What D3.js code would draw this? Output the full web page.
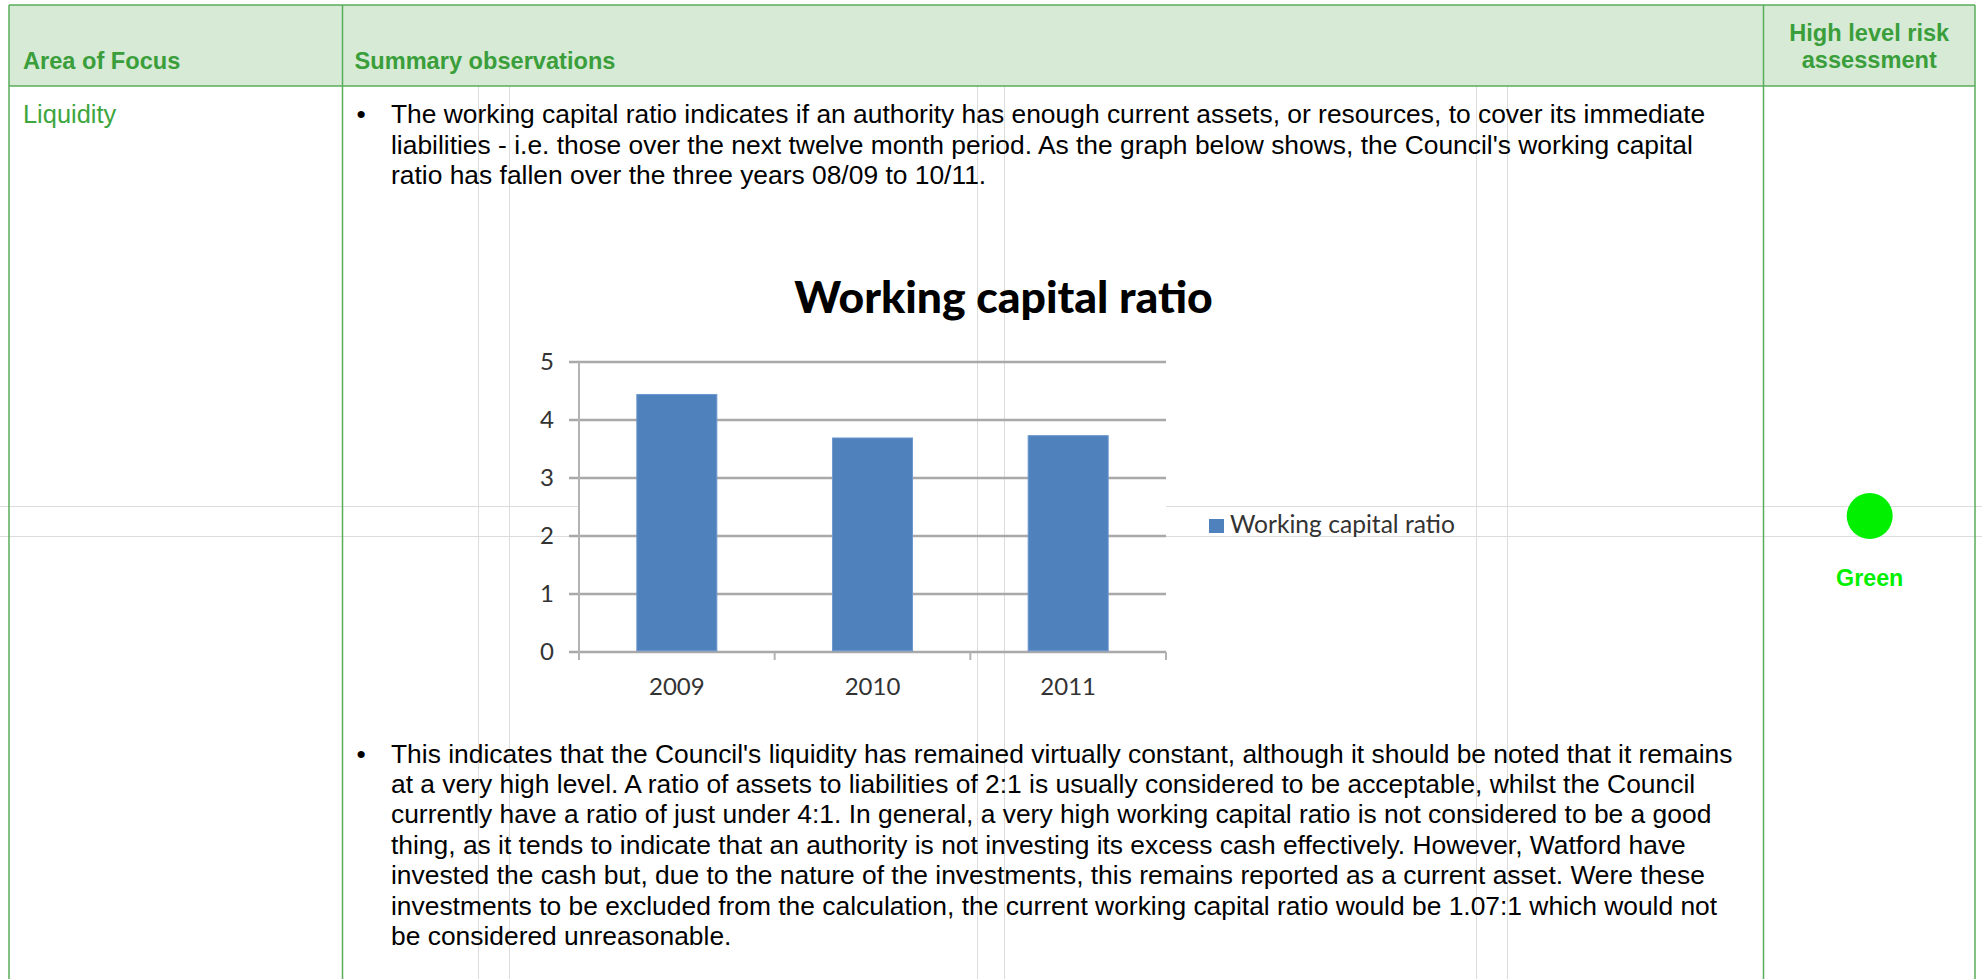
<!DOCTYPE html>
<html>
<head>
<meta charset="utf-8">
<script src="https://cdn.jsdelivr.net/npm/d3@7"></script>
<style>
  html, body { margin: 0; padding: 0; background: #ffffff; }
  svg { display: block; }
</style>
</head>
<body>
<svg id="page" width="1982" height="979"></svg>
<script>
// ---- chart data ----
const years = ["2009", "2010", "2011"];
const ratios = [4.44, 3.69, 3.73];
const yTicks = [0, 1, 2, 3, 4, 5];
const seriesName = "Working capital ratio";
const chartTitle = "Working capital ratio";

// ---- table text ----
const headers = ["Area of Focus", "Summary observations"];
const riskHeader = ["High level risk", "assessment"];
const areaName = "Liquidity";
const riskRating = "Green";
const introLines = [
  "The working capital ratio indicates if an authority has enough current assets, or resources, to cover its immediate",
  "liabilities - i.e. those over the next twelve month period. As the graph below shows, the Council's working capital",
  "ratio has fallen over the three years 08/09 to 10/11."
];
const noteLines = [
  "This indicates that the Council's liquidity has remained virtually constant, although it should be noted that it remains",
  "at a very high level. A ratio of assets to liabilities of 2:1 is usually considered to be acceptable, whilst the Council",
  "currently have a ratio of just under 4:1. In general, a very high working capital ratio is not considered to be a good",
  "thing, as it tends to indicate that an authority is not investing its excess cash effectively. However, Watford have",
  "invested the cash but, due to the nature of the investments, this remains reported as a current asset. Were these",
  "investments to be excluded from the calculation, the current working capital ratio would be 1.07:1 which would not",
  "be considered unreasonable."
];

// ---- layout ----
const W = 1982, H = 979;
const table = { left: 9, top: 5, right: 1975, col1: 342.5, col2: 1763.5, headBottom: 86 };
const guideX = [478, 509, 977, 1004, 1476, 1507];
const guideY = [506, 536];
const plot = { left: 579, right: 1166, top: 362, bottom: 652 };

const green = "#5aad5a";
const headText = "#3a9e3a";
const bodyFont = "'Liberation Sans', Arial, sans-serif";
const chartFont = "Lato, 'Open Sans', sans-serif";

const svg = d3.select("#page");

svg.append("rect").attr("width", W).attr("height", H).attr("fill", "#ffffff");

// header band
svg.append("rect")
  .attr("x", table.left).attr("y", table.top)
  .attr("width", table.right - table.left).attr("height", table.headBottom - table.top)
  .attr("fill", "#d6ead6");

// light page guides (horizontal ones sit beneath the plot area)
svg.append("g").selectAll("line").data(guideY).join("line")
  .attr("x1", 0).attr("x2", W)
  .attr("y1", d => d + 0.5).attr("y2", d => d + 0.5)
  .attr("stroke", "#dcdcdc").attr("stroke-width", 1);

svg.append("rect")
  .attr("x", plot.left).attr("y", plot.top)
  .attr("width", plot.right - plot.left).attr("height", plot.bottom - plot.top)
  .attr("fill", "#ffffff");

svg.append("g").selectAll("line").data(guideX).join("line")
  .attr("x1", d => d + 0.5).attr("x2", d => d + 0.5)
  .attr("y1", table.headBottom).attr("y2", H)
  .attr("stroke", "#dcdcdc").attr("stroke-width", 1);

// table rules
const rules = svg.append("g").attr("stroke", green).attr("stroke-width", 1.5).attr("fill", "none");
rules.append("line").attr("x1", table.left).attr("x2", table.right).attr("y1", table.top).attr("y2", table.top);
rules.append("line").attr("x1", table.left).attr("x2", table.right).attr("y1", table.headBottom).attr("y2", table.headBottom);
[table.left, table.col1, table.col2, table.right].forEach(x => {
  rules.append("line").attr("x1", x).attr("x2", x).attr("y1", table.top).attr("y2", H);
});

// header text
svg.append("text").attr("x", 23).attr("y", 68.5)
  .attr("font-family", bodyFont).attr("font-weight", "bold").attr("font-size", 23.6)
  .attr("fill", headText).text(headers[0]);
svg.append("text").attr("x", 354.5).attr("y", 68.5)
  .attr("font-family", bodyFont).attr("font-weight", "bold").attr("font-size", 23.6)
  .attr("fill", headText).text(headers[1]);
svg.append("g").selectAll("text").data(riskHeader).join("text")
  .attr("x", (table.col2 + table.right) / 2).attr("y", (d, i) => 40.8 + i * 27.6)
  .attr("text-anchor", "middle")
  .attr("font-family", bodyFont).attr("font-weight", "bold").attr("font-size", 23.6)
  .attr("fill", headText).text(d => d);

// area label
svg.append("text").attr("x", 23).attr("y", 122.5)
  .attr("font-family", bodyFont).attr("font-size", 25.4)
  .attr("fill", "#3ea63e").text(areaName);

// body paragraphs
const lineGap = 30.4;
function paragraph(lines, baseY) {
  const g = svg.append("g").attr("font-family", bodyFont).attr("font-size", 26.4).attr("fill", "#000000");
  g.append("text").attr("x", 361).attr("y", baseY).attr("text-anchor", "middle").text("\u2022");
  g.selectAll("text.line").data(lines).join("text")
    .attr("class", "line")
    .attr("x", 391).attr("y", (d, i) => baseY + i * lineGap)
    .text(d => d);
}
paragraph(introLines, 123.3);
paragraph(noteLines, 762.5);

// risk rating
svg.append("circle").attr("cx", 1869.7).attr("cy", 516).attr("r", 23).attr("fill", "#00f000");
svg.append("text").attr("x", 1869.7).attr("y", 586)
  .attr("text-anchor", "middle")
  .attr("font-family", bodyFont).attr("font-weight", "bold").attr("font-size", 23.3)
  .attr("fill", "#00f000").text(riskRating);

// ---- bar chart ----
const x = d3.scaleBand().domain(years).range([plot.left, plot.right])
  .paddingInner(0.591).paddingOuter(0.2955);
const y = d3.scaleLinear().domain([0, 5]).range([plot.bottom, plot.top]);

const chart = svg.append("g");

// horizontal gridlines with left tick stubs
chart.append("g").selectAll("line").data(yTicks).join("line")
  .attr("x1", plot.left - 10).attr("x2", plot.right)
  .attr("y1", d => y(d)).attr("y2", d => y(d))
  .attr("stroke", "#a9a9a9").attr("stroke-width", 2.4);

// value axis line
chart.append("line")
  .attr("x1", plot.left).attr("x2", plot.left)
  .attr("y1", y(5)).attr("y2", y(0) + 8)
  .attr("stroke", "#b3b3b3").attr("stroke-width", 2);

// category boundary ticks
const step = x.step();
const boundaries = d3.range(years.length + 1).map(i => plot.left + i * step);
chart.append("g").selectAll("line").data(boundaries.slice(1)).join("line")
  .attr("x1", d => d).attr("x2", d => d)
  .attr("y1", y(0)).attr("y2", y(0) + 8)
  .attr("stroke", "#b3b3b3").attr("stroke-width", 2);

// bars
chart.append("g").selectAll("rect").data(years).join("rect")
  .attr("x", d => x(d))
  .attr("y", (d, i) => y(ratios[i]))
  .attr("width", x.bandwidth())
  .attr("height", (d, i) => y(0) - y(ratios[i]) - 1.2)
  .attr("fill", "#4f81bd")
  .attr("stroke", "#6d98cf").attr("stroke-width", 1);

// value axis labels
chart.append("g").selectAll("text").data(yTicks).join("text")
  .attr("x", 554).attr("y", d => y(d))
  .attr("dy", "0.35em")
  .attr("text-anchor", "end")
  .attr("font-family", chartFont).attr("font-size", 24)
  .attr("fill", "#333333").text(d => d);

// category labels
chart.append("g").selectAll("text").data(years).join("text")
  .attr("x", d => x(d) + x.bandwidth() / 2).attr("y", 695)
  .attr("text-anchor", "middle")
  .attr("font-family", chartFont).attr("font-size", 24)
  .attr("fill", "#333333").text(d => d);

// title
chart.append("text").attr("x", 1003.5).attr("y", 313)
  .attr("text-anchor", "middle")
  .attr("font-family", chartFont).attr("font-weight", 900).attr("font-size", 44.5)
  .attr("fill", "#000000").text(chartTitle);

// legend
const legend = chart.append("g");
legend.append("rect").attr("x", 1209).attr("y", 519).attr("width", 15).attr("height", 14)
  .attr("fill", "#4f81bd");
legend.append("text").attr("x", 1230).attr("y", 533)
  .attr("font-family", chartFont).attr("font-size", 24.6)
  .attr("fill", "#333333").text(seriesName);
</script>
</body>
</html>
